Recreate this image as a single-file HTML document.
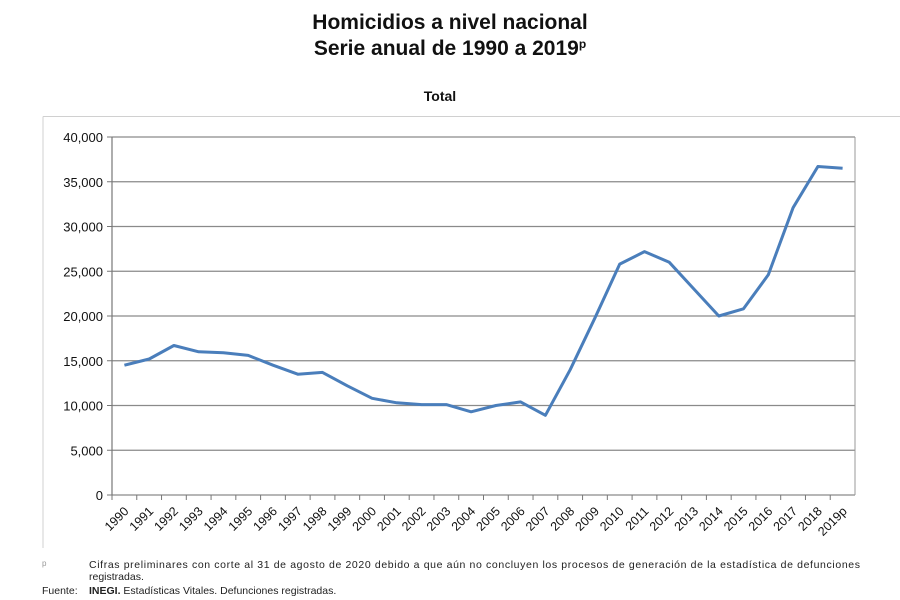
<!DOCTYPE html>
<html><head><meta charset="utf-8"><style>
html,body{margin:0;padding:0;background:#fff;}
svg{display:block;font-family:"Liberation Sans",Arial,sans-serif;}
</style></head><body>
<svg id="chart" width="900" height="600" viewBox="0 0 900 600">
<text x="450" y="29" text-anchor="middle" font-size="21" font-weight="bold" fill="#111">Homicidios a nivel nacional</text>
<text x="450" y="55" text-anchor="middle" font-size="21" font-weight="bold" fill="#111">Serie anual de 1990 a 2019<tspan font-size="12" dy="-7">p</tspan></text>
<text x="440" y="101" text-anchor="middle" font-size="14" font-weight="bold" fill="#111">Total</text>
<line x1="43" y1="116.5" x2="900" y2="116.5" stroke="#d0d0d0"/>
<line x1="43" y1="116.5" x2="43" y2="548" stroke="#d0d0d0"/>
<g id="grid"></g>
<g id="axes"></g>
<g id="series"></g>
<text x="42" y="566" font-size="8" fill="#999">p</text>
<text x="89" y="568" font-size="10.5" fill="#222" textLength="771">Cifras preliminares con corte al 31 de agosto de 2020 debido a que aún no concluyen los procesos de generación de la estadística de defunciones</text>
<text x="89" y="580" font-size="10.5" fill="#222">registradas.</text>
<text x="42" y="594" font-size="10.5" fill="#222">Fuente:</text>
<text x="89" y="594" font-size="10.5" fill="#222"><tspan font-weight="bold">INEGI.</tspan> Estadísticas Vitales. Defunciones registradas.</text>
</svg>
<script>
const categories=["1990","1991","1992","1993","1994","1995","1996","1997","1998","1999","2000","2001","2002","2003","2004","2005","2006","2007","2008","2009","2010","2011","2012","2013","2014","2015","2016","2017","2018","2019p"];
const homicides=[14500,15200,16700,16000,15900,15600,14500,13500,13700,12200,10800,10300,10100,10100,9300,10000,10400,8900,14000,19800,25800,27200,26000,23000,20000,20800,24600,32100,36700,36500];
const yTicks=[0,5000,10000,15000,20000,25000,30000,35000,40000];
const yTickLabels=["0","5,000","10,000","15,000","20,000","25,000","30,000","35,000","40,000"];

const NS="http://www.w3.org/2000/svg";
const L=112,R=855,T=137,B=495,yMax=40000;
const band=(R-L)/categories.length;
const xPos=i=>L+band*(i+0.5);
const yPos=v=>B-(v/yMax)*(B-T);
function mk(tag,attrs,parent){const e=document.createElementNS(NS,tag);for(const k in attrs)e.setAttribute(k,attrs[k]);parent.appendChild(e);return e;}
const grid=document.getElementById('grid'),axes=document.getElementById('axes'),series=document.getElementById('series');
yTicks.forEach((v,i)=>{
  const y=yPos(v);
  const g=mk('line',{x1:L,x2:R,y1:y,y2:y,stroke:'#8a8a8a','stroke-width':1.2},grid);
  
  
  const tk=mk('line',{x1:L-5,x2:L,y1:y,y2:y,stroke:'#777'},axes);
  
  
  const t=mk('text',{x:L-9,y:y+5,'text-anchor':'end','font-size':13,fill:'#111'},axes);
  
  
  t.textContent=yTickLabels[i];
});
const ax=mk('line',{x1:L,x2:L,y1:T,y2:B,stroke:'#777','stroke-width':1.2},axes);


const rb=mk('line',{x1:R,x2:R,y1:T,y2:B,stroke:'#999','stroke-width':1},axes);


categories.forEach((c,i)=>{
  const xt=L+band*i;
  const tk=mk('line',{x1:xt,x2:xt,y1:B,y2:B+5,stroke:'#777'},axes);
  
  
  const x=xPos(i)+5,y=B+17;
  const t=mk('text',{x:x,y:y,'text-anchor':'end','font-size':12.5,fill:'#111',transform:`rotate(-45 ${x} ${y})`},axes);
  
  
  t.textContent=c;
});
const pts=homicides.map((v,i)=>xPos(i).toFixed(1)+','+yPos(v).toFixed(1)).join(' ');
const line=mk('polyline',{points:pts,fill:'none',stroke:'#4a7ebb','stroke-width':3,'stroke-linejoin':'round'},series);


</script>
</body></html>
